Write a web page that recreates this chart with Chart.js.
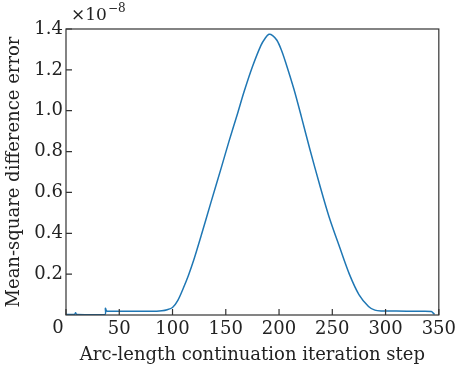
<!DOCTYPE html>
<html lang="en">
<head>
  <meta charset="UTF-8" />
  <title>Mean-square difference error</title>
  <script src="https://cdn.jsdelivr.net/npm/chart.js"></script>
  <style>
    html, body { margin: 0; padding: 0; background: #fff; }
    #wrap { width: 460px; height: 369px; }
  </style>
</head>
<body>
<div id="wrap"><canvas id="chart"></canvas></div>
<script>
  // iteration step and error (in units of 1e-8)
  const steps = [0, 8, 9, 10, 36.5, 37, 38, 40, 60, 80, 90, 95, 100, 105, 110, 115, 120, 127, 136, 146, 153, 161,
                 167, 175, 183, 187, 190.5, 194, 198, 202, 206, 214, 221, 229, 238, 247, 257, 266, 275, 284, 290,
                 296, 310, 330, 343, 345, 346];
  const errors = [0.003, 0.003, 0.011, 0.003, 0.003, 0.033, 0.02, 0.018, 0.018, 0.018, 0.021, 0.026, 0.037, 0.072, 0.13,
                  0.195, 0.27, 0.39, 0.55, 0.725, 0.85, 0.985,
                  1.09, 1.215, 1.32, 1.355, 1.374, 1.368, 1.345, 1.30, 1.24, 1.105, 0.97, 0.81, 0.64, 0.48, 0.33,
                  0.2, 0.1, 0.042, 0.024, 0.02, 0.019, 0.018, 0.017, 0.008, 0.003];
  const xTicks = [0, 50, 100, 150, 200, 250, 300, 350];
  const yTicks = [0.2, 0.4, 0.6, 0.8, 1.0, 1.2, 1.4];

  const FONT = "'DejaVu Serif', serif";
  const SIZE = 18;
  const INK = "#222";

  const framePlugin = {
    id: "frame",
    afterDraw(chart) {
      const { ctx, chartArea: a, scales } = chart;
      ctx.save();
      ctx.strokeStyle = "#333";
      ctx.lineWidth = 1.2;
      ctx.strokeRect(a.left, a.top, a.right - a.left, a.bottom - a.top);
      // inward ticks on bottom and left
      ctx.beginPath();
      xTicks.forEach(v => {
        const x = scales.x.getPixelForValue(v);
        ctx.moveTo(x, a.bottom);
        ctx.lineTo(x, a.bottom - 6);
      });
      yTicks.forEach(v => {
        const y = scales.y.getPixelForValue(v);
        ctx.moveTo(a.left, y);
        ctx.lineTo(a.left + 6, y);
      });
      ctx.stroke();
      // "0" label sits a little left of the axis
      ctx.fillStyle = INK;
      ctx.font = SIZE + "px " + FONT;
      ctx.textAlign = "center";
      ctx.textBaseline = "top";
      ctx.fillText("0", scales.x.getPixelForValue(0) - 8, a.bottom + 4);
      // offset text
      ctx.textAlign = "left";
      ctx.textBaseline = "alphabetic";
      ctx.font = "17px " + FONT;
      ctx.fillText("\u00d710", a.left + 5, a.top - 9);
      const w = ctx.measureText("\u00d710").width;
      ctx.font = "12px " + FONT;
      ctx.fillText("\u22128", a.left + 5 + w + 1, a.top - 17);
      ctx.restore();
    }
  };

  new Chart(document.getElementById("chart"), {
    type: "line",
    data: {
      datasets: [{
        data: steps.map((s, i) => ({ x: s, y: errors[i] })),
        borderColor: "#1f77b4",
        borderWidth: 1.5,
        pointRadius: 0,
        tension: 0.3,
        fill: false
      }]
    },
    options: {
      responsive: true,
      maintainAspectRatio: false,
      animation: false,
      layout: { padding: { top: 29, right: 16, left: 0, bottom: 0 } },
      plugins: { legend: { display: false }, tooltip: { enabled: false } },
      scales: {
        x: {
          type: "linear",
          min: 0, max: 350,
          afterFit(s) { s.height = 54; },
          afterBuildTicks(s) { s.ticks = xTicks.map(v => ({ value: v })); },
          grid: { display: false, drawTicks: false },
          border: { display: false },
          ticks: {
            padding: 4,
            color: INK,
            font: { family: FONT, size: SIZE },
            callback: v => v === 0 ? "" : v
          },
          title: {
            display: true,
            text: "Arc-length continuation iteration step",
            color: INK,
            font: { family: FONT, size: SIZE },
            padding: { top: 0, bottom: 3 }
          }
        },
        y: {
          min: 0, max: 1.4,
          afterFit(s) { s.width = 66; },
          afterBuildTicks(s) { s.ticks = yTicks.map(v => ({ value: v })); },
          grid: { display: false, drawTicks: false },
          border: { display: false },
          ticks: {
            padding: 3,
            color: INK,
            font: { family: FONT, size: SIZE },
            callback: v => v.toFixed(1)
          },
          title: {
            display: true,
            text: "Mean-square difference error",
            color: INK,
            font: { family: FONT, size: SIZE },
            padding: { top: 4, bottom: 0 }
          }
        }
      }
    },
    plugins: [framePlugin]
  });
</script>
</body>
</html>
